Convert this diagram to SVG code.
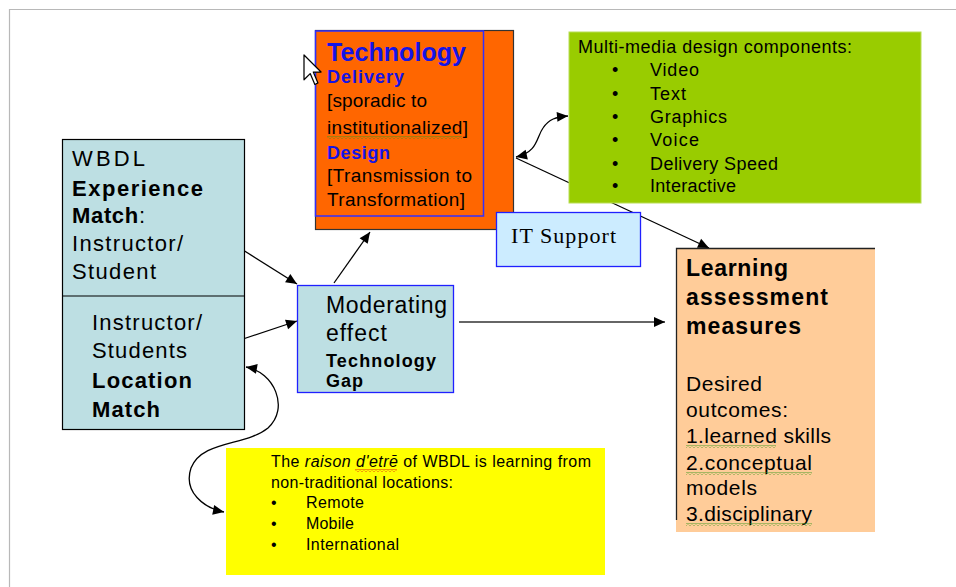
<svg xmlns="http://www.w3.org/2000/svg" width="956" height="587" viewBox="0 0 956 587">
  <style>
    .sans { font-family: "Liberation Sans", Arial, sans-serif; fill: #000; }
    .serif { font-family: "Liberation Serif", "Times New Roman", serif; fill: #000; }
    .b { font-weight: bold; }
    .blue { fill: #1414e6; }
    .conn { fill: none; stroke: #000; stroke-width: 1.3; }
    .teal { fill: #bddfe3; }
  </style>
  <defs>
    <marker id="arrow" viewBox="0 0 10 10" refX="10" refY="5" markerWidth="12" markerHeight="11" markerUnits="userSpaceOnUse" orient="auto-start-reverse">
      <path d="M0,0.5 L10,5 L0,9.5 z" fill="#000"/>
    </marker>
    <pattern id="wavyGreen" width="4" height="3" patternUnits="userSpaceOnUse">
      <path d="M0,2.5 L2,0.5 L4,2.5" fill="none" stroke="#3c9a1e" stroke-width="0.9"/>
    </pattern>
    <pattern id="wavyRed" width="4" height="3" patternUnits="userSpaceOnUse">
      <path d="M0,2.5 L2,0.5 L4,2.5" fill="none" stroke="#e01010" stroke-width="0.9"/>
    </pattern>
  </defs>

  <rect width="956" height="587" fill="#fff"/>
  <!-- page frame -->
  <path d="M9.5,587 V9.5 H956" fill="none" stroke="#b8b8b8" stroke-width="1.2"/>

  <!-- connectors -->
  <g id="connectors">
    <line class="conn" x1="243" y1="250" x2="297" y2="284" marker-end="url(#arrow)"/>
    <line class="conn" x1="243" y1="339" x2="297" y2="321" marker-end="url(#arrow)"/>
    <line class="conn" x1="334" y1="283" x2="370" y2="232" marker-end="url(#arrow)"/>
    <line class="conn" x1="516" y1="158" x2="709" y2="248" marker-end="url(#arrow)"/>
    <line x1="459" y1="322" x2="665" y2="322" stroke="#666" stroke-width="2.2" marker-end="url(#arrow)"/>
    <path class="conn" d="M516,157 C538,152 536,138 543,128 C549,119 556,117 568,116" marker-start="url(#arrow)" marker-end="url(#arrow)"/>
    <path class="conn" d="M246,367 C274,372 290,408 268,428 C246,446 202,440 191,468 C183,492 204,508 224,512" marker-start="url(#arrow)" marker-end="url(#arrow)"/>
  </g>

  <!-- Technology delivery / design -->
  <g id="technology">
    <rect x="315.5" y="30.5" width="198" height="199" fill="#ff6600" stroke="#333" stroke-width="1.2"/>
    <rect x="315.5" y="31" width="168" height="185" fill="none" stroke="#3030ff" stroke-width="1.5"/>
    <text class="sans b blue" x="327" y="61" font-size="25" textLength="139">Technology</text>
    <text class="sans b blue" x="327" y="83" font-size="18" textLength="77">Delivery</text>
    <text class="sans" x="327" y="107" font-size="19" textLength="100">[sporadic to</text>
    <text class="sans" x="327" y="134" font-size="19" textLength="141">institutionalized]</text>
    <rect x="327" y="136" width="135" height="3" fill="url(#wavyGreen)"/>
    <text class="sans b blue" x="327" y="159" font-size="18" textLength="63">Design</text>
    <text class="sans" x="327" y="182" font-size="19" textLength="145">[Transmission to</text>
    <text class="sans" x="327" y="206" font-size="19" textLength="138">Transformation]</text>
  </g>

  <!-- pointer -->
  <path d="M0,0 L0,16 L4,12 L7,19 L9,18 L6,11 L11,11 Z" transform="translate(304,55) scale(1.55)" fill="#fff" stroke="#000" stroke-width="0.8" stroke-linejoin="round"/>

  <!-- multi-media components -->
  <g id="multimedia">
    <rect x="569" y="32" width="352" height="171" fill="#99cc00" stroke="#b8dd55" stroke-width="1"/>
    <text class="sans" x="578" y="53" font-size="18" textLength="274">Multi-media design components:</text>
    <g class="sans" font-size="18">
      <text x="612" y="76">•</text><text x="650" y="76" textLength="49">Video</text>
      <text x="612" y="100">•</text><text x="650" y="100" textLength="36">Text</text>
      <text x="612" y="123">•</text><text x="650" y="123" textLength="77">Graphics</text>
      <text x="612" y="146">•</text><text x="650" y="146" textLength="49">Voice</text>
      <text x="612" y="170">•</text><text x="650" y="170" textLength="128">Delivery Speed</text>
      <text x="612" y="192">•</text><text x="650" y="192" textLength="86">Interactive</text>
    </g>
  </g>

  <!-- WBDL experience / location match -->
  <g id="wbdl-match">
    <rect class="teal" x="62.5" y="139.5" width="182" height="290" stroke="#000" stroke-width="1.2"/>
    <line x1="62.5" y1="296" x2="244.5" y2="296" stroke="#000" stroke-width="1.2"/>
    <g class="sans" font-size="22">
      <text x="72" y="166" textLength="73">WBDL</text>
      <text class="b" x="72" y="196" textLength="131">Experience</text>
      <text x="72" y="223" textLength="73"><tspan class="b">Match</tspan>:</text>
      <text x="72" y="251" textLength="111">Instructor/</text>
      <text x="72" y="279" textLength="84">Student</text>
      <text x="92" y="330" textLength="110">Instructor/</text>
      <text x="92" y="358" textLength="95">Students</text>
      <text class="b" x="92" y="388" textLength="100">Location</text>
      <text class="b" x="92" y="417" textLength="68">Match</text>
    </g>
  </g>

  <!-- moderating effect -->
  <g id="moderating">
    <rect class="teal" x="297.5" y="285.5" width="156" height="107" stroke="#2020ff" stroke-width="1.3"/>
    <text class="sans" x="326" y="313" font-size="23" textLength="121">Moderating</text>
    <text class="sans" x="326" y="341" font-size="23" textLength="61">effect</text>
    <text class="sans b" x="326" y="367" font-size="18" textLength="110">Technology</text>
    <text class="sans b" x="326" y="387" font-size="18" textLength="37">Gap</text>
  </g>

  <!-- IT support -->
  <g id="it-support">
    <rect x="496.5" y="212.5" width="144" height="54" fill="#ccecff" stroke="#2020ff" stroke-width="1.3"/>
    <text class="serif" x="511" y="243" font-size="22" textLength="105">IT Support</text>
  </g>

  <!-- learning assessment -->
  <g id="learning">
    <rect x="676" y="248" width="199" height="284" fill="#ffcc99"/>
    <path d="M676.5,520 V248.5 H875" fill="none" stroke="#222" stroke-width="1.3"/>
    <g class="sans b" font-size="23">
      <text x="686" y="276" textLength="102">Learning</text>
      <text x="686" y="305" textLength="142">assessment</text>
      <text x="686" y="334" textLength="115">measures</text>
    </g>
    <g class="sans" font-size="21">
      <text x="686" y="391" textLength="76">Desired</text>
      <text x="686" y="417" textLength="102">outcomes:</text>
      <text x="686" y="443" textLength="145">1.learned skills</text>
      <text x="686" y="470" textLength="126">2.conceptual</text>
      <text x="686" y="495" textLength="71">models</text>
      <text x="686" y="521" textLength="126">3.disciplinary</text>
    </g>
    <rect x="686" y="445" width="90" height="3" fill="url(#wavyGreen)"/>
    <rect x="686" y="472" width="126" height="3" fill="url(#wavyGreen)"/>
    <rect x="686" y="523" width="126" height="3" fill="url(#wavyGreen)"/>
  </g>

  <!-- raison d'etre -->
  <g id="raison-detre">
    <rect x="226" y="448" width="379" height="127" fill="#ffff00"/>
    <g class="sans" font-size="16">
      <text x="271" y="467" textLength="320">The <tspan font-style="italic">raison d'etrē</tspan> of WBDL is learning from</text>
      <text x="271" y="488" textLength="182">non-traditional locations:</text>
      <text x="271" y="508">•</text><text x="306" y="508" textLength="58">Remote</text>
      <text x="271" y="529">•</text><text x="306" y="529" textLength="48">Mobile</text>
      <text x="271" y="550">•</text><text x="306" y="550" textLength="93">International</text>
    </g>
    <rect x="355" y="469" width="42" height="3" fill="url(#wavyRed)"/>
  </g>
</svg>
